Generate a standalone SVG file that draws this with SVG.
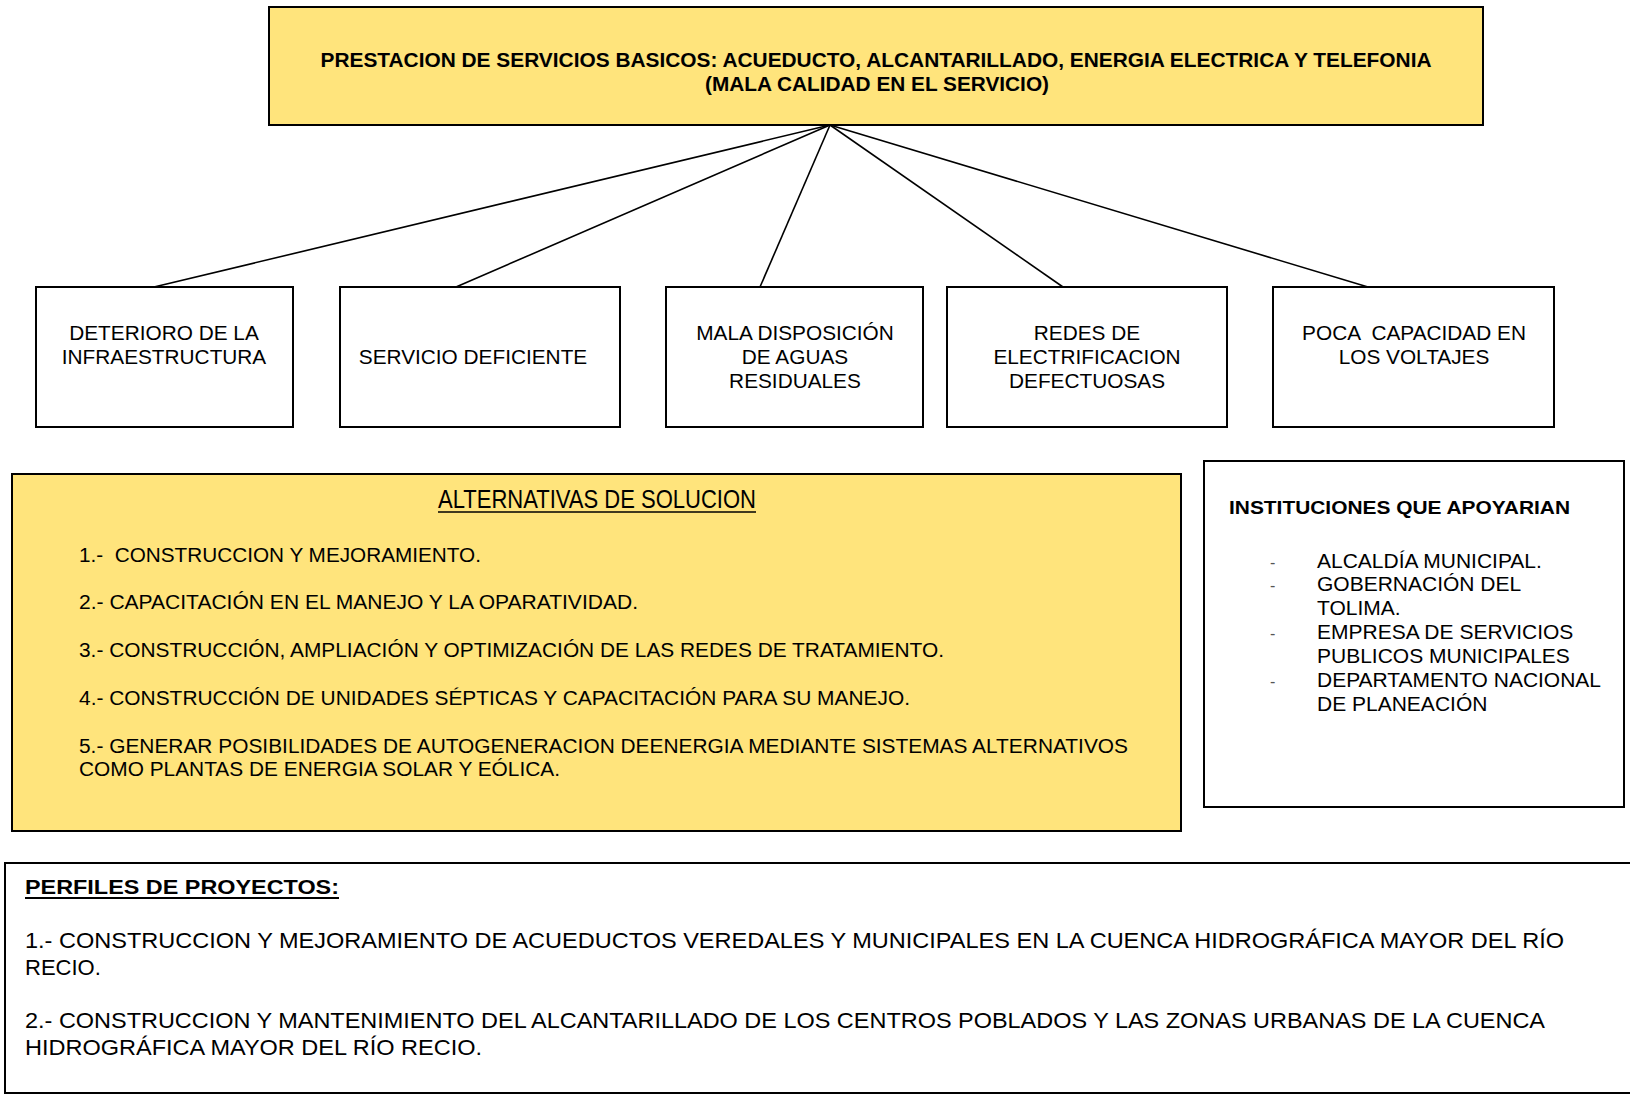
<svg xmlns="http://www.w3.org/2000/svg" width="1630" height="1096" viewBox="0 0 1630 1096">
<style>
.box{fill:#fff;stroke:#000;stroke-width:2}
.yel{fill:#FFE47C;stroke:#000;stroke-width:2}
.conn line{stroke:#000;stroke-width:1.6}
text{font-family:"Liberation Sans",Arial,sans-serif;fill:#000;white-space:pre}
.b{font-weight:bold}
.n{font-size:20px}
.m{font-size:20.8px}
.i{font-size:21px}
.d{font-size:16px;fill:#555}
.c{text-anchor:middle}
.l{font-size:22px}
</style>
<rect width="1630" height="1096" fill="#fff"/>
<g id="conectores" class="conn">
<line x1="830" y1="125" x2="154" y2="287"/>
<line x1="830" y1="125" x2="456" y2="287"/>
<line x1="830" y1="125" x2="760" y2="287"/>
<line x1="830" y1="125" x2="1063" y2="287"/>
<line x1="830" y1="125" x2="1368" y2="287"/>
</g>
<g id="problema">
<rect class="yel" x="269" y="7" width="1214" height="118"/>
<text class="b c" x="876" y="67" font-size="20" textLength="1111" lengthAdjust="spacingAndGlyphs">PRESTACION DE SERVICIOS BASICOS: ACUEDUCTO, ALCANTARILLADO, ENERGIA ELECTRICA Y TELEFONIA</text>
<text class="b c" x="877" y="91" font-size="20" textLength="344" lengthAdjust="spacingAndGlyphs">(MALA CALIDAD EN EL SERVICIO)</text>
</g>
<g id="causa1">
<rect class="box" x="36" y="287" width="257" height="140"/>
<text class="m c" x="164" y="340">DETERIORO DE LA</text>
<text class="m c" x="164" y="364">INFRAESTRUCTURA</text>
</g>
<g id="causa2">
<rect class="box" x="340" y="287" width="280" height="140"/>
<text class="m c" x="473" y="364">SERVICIO DEFICIENTE</text>
</g>
<g id="causa3">
<rect class="box" x="666" y="287" width="257" height="140"/>
<text class="m c" x="795" y="340">MALA DISPOSICIÓN</text>
<text class="m c" x="795" y="364">DE AGUAS</text>
<text class="m c" x="795" y="388">RESIDUALES</text>
</g>
<g id="causa4">
<rect class="box" x="947" y="287" width="280" height="140"/>
<text class="m c" x="1087" y="340">REDES DE</text>
<text class="m c" x="1087" y="364">ELECTRIFICACION</text>
<text class="m c" x="1087" y="388">DEFECTUOSAS</text>
</g>
<g id="causa5">
<rect class="box" x="1273" y="287" width="281" height="140"/>
<text class="m c" x="1414" y="340">POCA  CAPACIDAD EN</text>
<text class="m c" x="1414" y="364">LOS VOLTAJES</text>
</g>
<g id="alternativas">
<rect class="yel" x="12" y="474" width="1169" height="357"/>
<text x="438" y="508" font-size="26" textLength="318" lengthAdjust="spacingAndGlyphs">ALTERNATIVAS DE SOLUCION</text>
<line x1="438" y1="512" x2="756" y2="512" stroke="#000" stroke-width="1.6"/>
<text class="n" x="79" y="562" textLength="402" lengthAdjust="spacingAndGlyphs">1.-  CONSTRUCCION Y MEJORAMIENTO.</text>
<text class="n" x="79" y="609" textLength="559" lengthAdjust="spacingAndGlyphs">2.- CAPACITACIÓN EN EL MANEJO Y LA OPARATIVIDAD.</text>
<text class="n" x="79" y="657" textLength="865" lengthAdjust="spacingAndGlyphs">3.- CONSTRUCCIÓN, AMPLIACIÓN Y OPTIMIZACIÓN DE LAS REDES DE TRATAMIENTO.</text>
<text class="n" x="79" y="705" textLength="831" lengthAdjust="spacingAndGlyphs">4.- CONSTRUCCIÓN DE UNIDADES SÉPTICAS Y CAPACITACIÓN PARA SU MANEJO.</text>
<text class="n" x="79" y="753" textLength="1049" lengthAdjust="spacingAndGlyphs">5.- GENERAR POSIBILIDADES DE AUTOGENERACION DEENERGIA MEDIANTE SISTEMAS ALTERNATIVOS</text>
<text class="n" x="79" y="776" textLength="481" lengthAdjust="spacingAndGlyphs">COMO PLANTAS DE ENERGIA SOLAR Y EÓLICA.</text>
</g>
<g id="instituciones">
<rect class="box" x="1204" y="461" width="420" height="346"/>
<text class="b" x="1229" y="514" font-size="19" textLength="341" lengthAdjust="spacingAndGlyphs">INSTITUCIONES QUE APOYARIAN</text>
<text class="d" x="1270" y="568">-</text>
<text class="i" x="1317" y="568">ALCALDÍA MUNICIPAL.</text>
<text class="d" x="1270" y="591">-</text>
<text class="i" x="1317" y="591">GOBERNACIÓN DEL</text>
<text class="i" x="1317" y="615">TOLIMA.</text>
<text class="d" x="1270" y="639">-</text>
<text class="i" x="1317" y="639">EMPRESA DE SERVICIOS</text>
<text class="i" x="1317" y="663">PUBLICOS MUNICIPALES</text>
<text class="d" x="1270" y="687">-</text>
<text class="i" x="1317" y="687" textLength="284" lengthAdjust="spacingAndGlyphs">DEPARTAMENTO NACIONAL</text>
<text class="i" x="1317" y="711">DE PLANEACIÓN</text>
</g>
<g id="perfiles">
<rect class="box" x="5" y="863" width="1640" height="230"/>
<text class="b" x="25" y="894" font-size="21" textLength="314" lengthAdjust="spacingAndGlyphs">PERFILES DE PROYECTOS:</text>
<line x1="25" y1="898" x2="339" y2="898" stroke="#000" stroke-width="2"/>
<text class="l" x="25" y="948" textLength="1539" lengthAdjust="spacingAndGlyphs">1.- CONSTRUCCION Y MEJORAMIENTO DE ACUEDUCTOS VEREDALES Y MUNICIPALES EN LA CUENCA HIDROGRÁFICA MAYOR DEL RÍO</text>
<text class="l" x="25" y="975">RECIO.</text>
<text class="l" x="25" y="1028" textLength="1520" lengthAdjust="spacingAndGlyphs">2.- CONSTRUCCION Y MANTENIMIENTO DEL ALCANTARILLADO DE LOS CENTROS POBLADOS Y LAS ZONAS URBANAS DE LA CUENCA</text>
<text class="l" x="25" y="1055" textLength="457" lengthAdjust="spacingAndGlyphs">HIDROGRÁFICA MAYOR DEL RÍO RECIO.</text>
</g>
</svg>
